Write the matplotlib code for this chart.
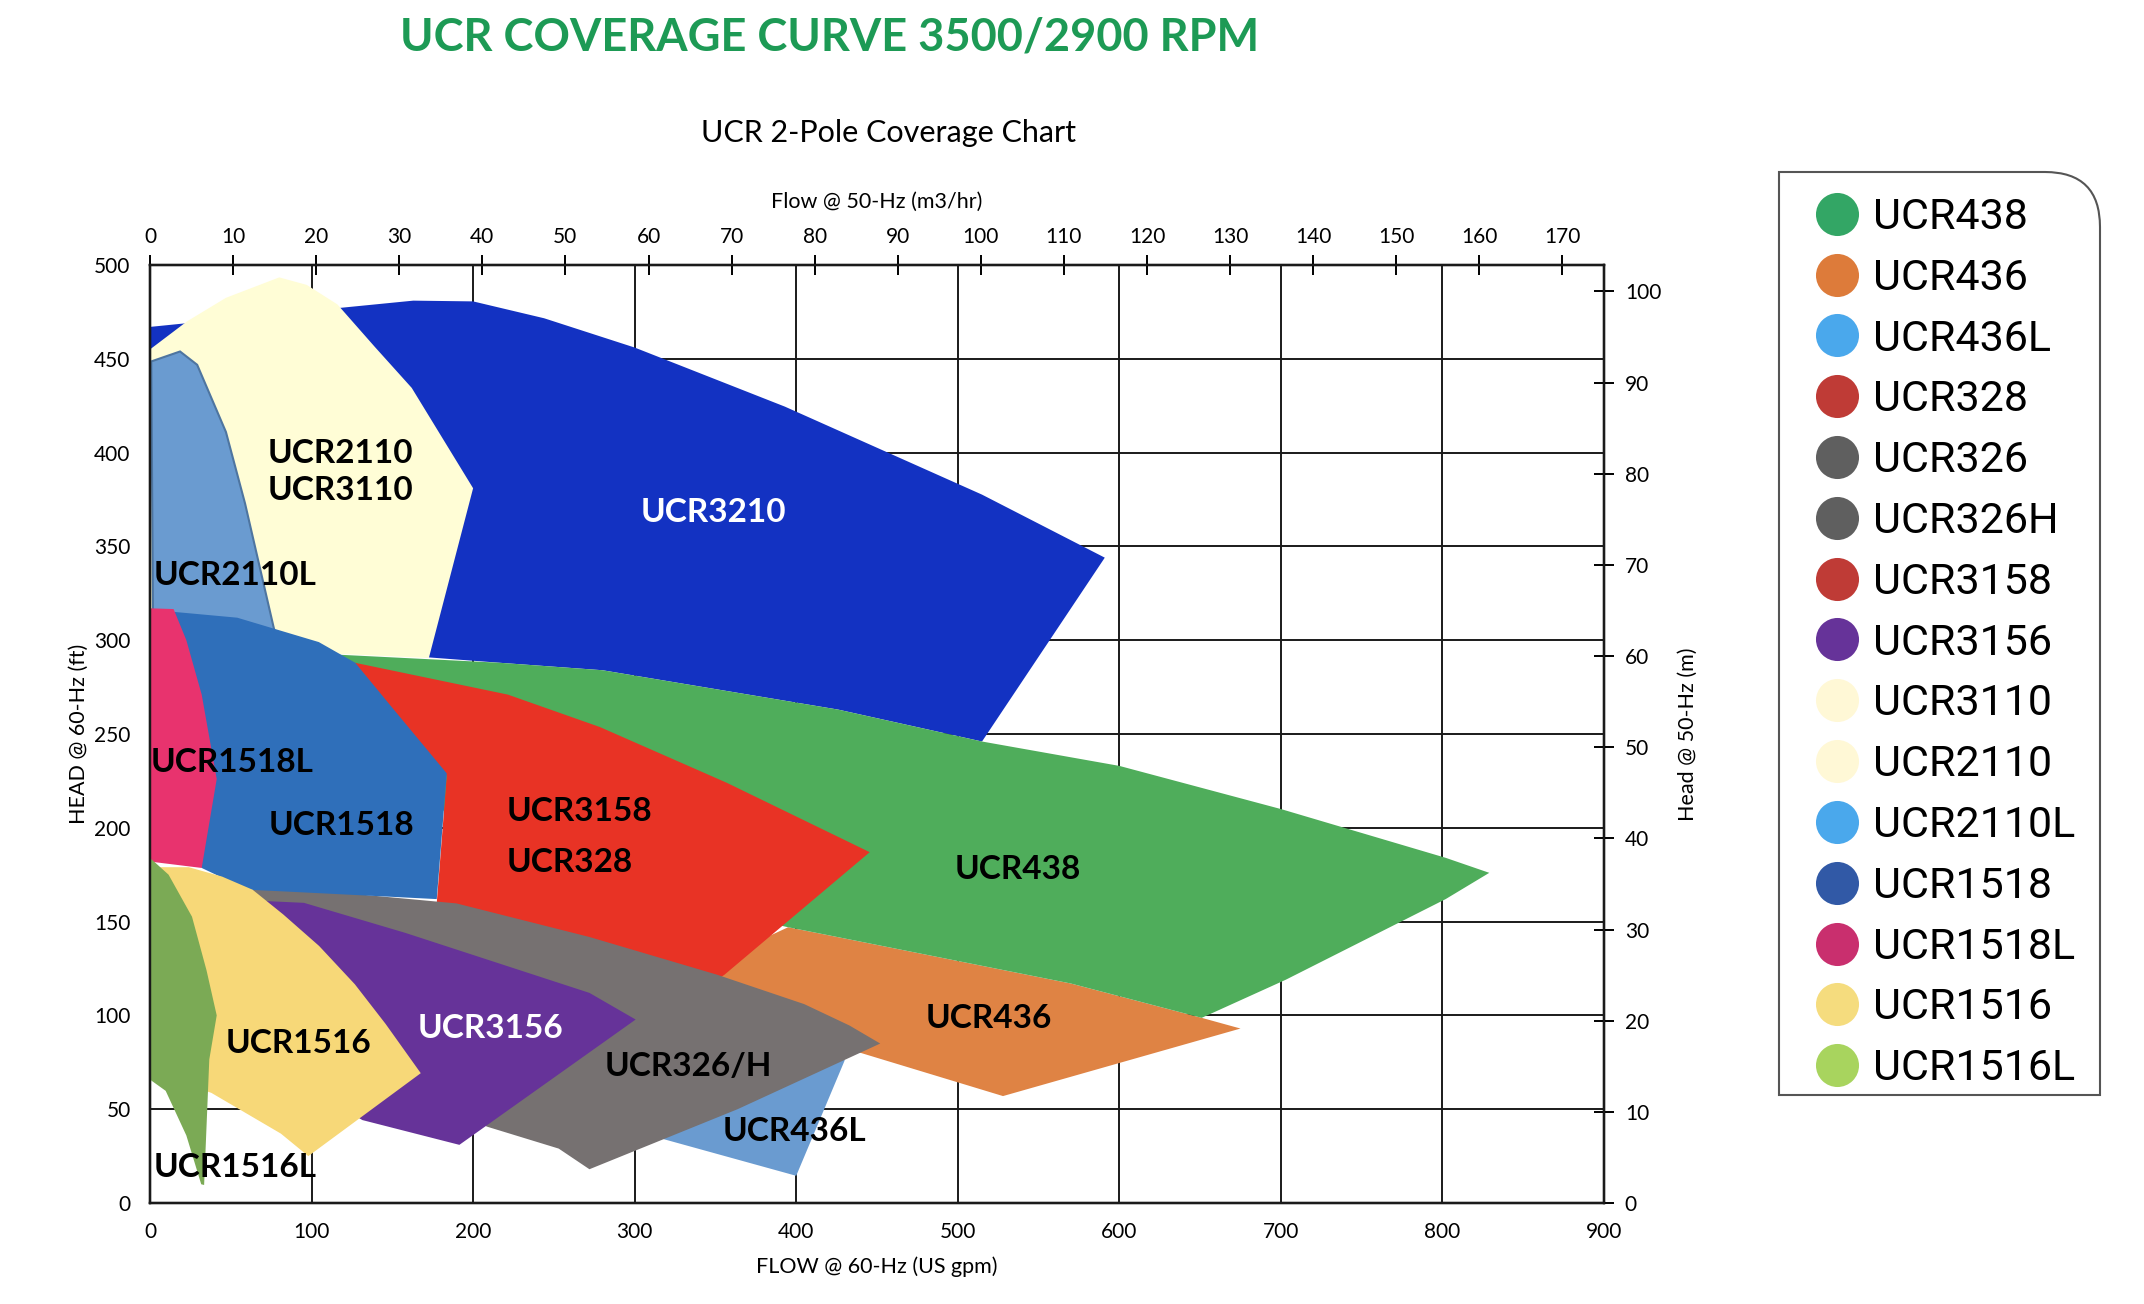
import matplotlib
matplotlib.use("Agg")
import matplotlib.pyplot as plt
from matplotlib.lines import Line2D
from matplotlib.path import Path
from matplotlib.patches import PathPatch
import numpy as np

plt.rcParams['font.family'] = ['Lato', 'DejaVu Sans']

# --- coverage envelopes (flow US gpm @60Hz, head ft @60Hz) ---
flow_3210 = [0, 23, 116, 163, 200, 244, 300, 393, 515, 591, 515, 426, 280, 216, 170, 0]
head_3210 = [467, 469, 477, 481, 480.6, 471.6, 456, 424.5, 377.6, 344, 246, 263, 284, 288, 291, 300]

flow_2110 = [0, 23, 47, 80, 97, 116, 139, 162, 200, 172.6, 60, 0]
head_2110 = [455, 470, 482.5, 493.4, 489.4, 479, 456.5, 434.5, 381, 290.5, 295, 300]

flow_2110L = [0.8, 18.6, 29.2, 47, 58.8, 76.5, 80, 2]
head_2110L = [448.6, 453.9, 446.8, 411, 373, 307, 295, 295]

flow_436 = [340, 395, 570, 651, 675, 528, 440, 340]
head_436 = [125, 147, 117, 98.7, 93, 57, 80, 100]

flow_436L = [316, 400, 430, 420, 330]
head_436L = [34.5, 14.5, 76, 90, 60]

flow_438 = [100, 216, 280, 426, 515, 600, 700, 802, 829, 802, 703, 651, 570, 395, 300, 200, 100]
head_438 = [293, 288, 284, 263, 246, 233, 210, 184, 176, 162, 119, 98.7, 117, 147, 165, 200, 250]

flow_3158 = [126.7, 221.5, 278.5, 357, 445.5, 355.6, 351, 272, 189.7, 177.5, 183.7]
head_3158 = [288, 271, 253.7, 224, 187, 121.7, 119, 139, 157, 160, 227.7]

flow_326 = [63.5, 85.7, 189.7, 272, 351, 405, 433, 452, 363.7, 272, 253, 209, 150, 80]
head_326 = [167, 168, 159.7, 141.8, 121.7, 106, 94.6, 85, 50, 18, 29, 40.6, 60, 100]

flow_3156 = [70, 95.3, 158, 272, 300.6, 191.5, 131.5, 100, 60]
head_3156 = [161, 160, 144, 112, 97.8, 31, 44.2, 60, 100]

flow_1518 = [5, 16, 54, 104.5, 127, 149, 183.7, 177.5, 85, 60.4, 32, 10]
head_1518 = [315, 315, 312, 299, 288, 265, 229, 162, 166, 167, 178.6, 200]

flow_1518L = [0, 14.6, 22.5, 32, 41.3, 32, 0]
head_1518L = [317, 316.6, 300, 271, 226, 178.6, 182]

flow_1516 = [6.8, 24, 44.6, 63.5, 82.5, 104.7, 126.8, 145.8, 167.6, 98, 81, 38, 0, 0]
head_1516 = [179, 179, 174, 167, 153.8, 137, 116.6, 95.5, 69.2, 25, 37, 58.7, 70, 179]

flow_1516L = [0.3, 11.5, 26, 35, 41.3, 36.7, 33.5, 31.7, 22.5, 9.7, 0.3]
head_1516L = [183.7, 175, 152.6, 124, 100, 76.5, 9.6, 10, 36, 59.8, 65.6]

# region labels: text, flow, head, colour
label_text = ['UCR2110', 'UCR3110', 'UCR2110L', 'UCR3210', 'UCR1518L', 'UCR1518',
              'UCR3158', 'UCR328', 'UCR438', 'UCR436', 'UCR1516', 'UCR3156',
              'UCR326/H', 'UCR436L', 'UCR1516L']
label_flow = [118, 118, 52.5, 349, 51, 118.5, 266, 260, 537, 519, 92, 211, 333, 399, 52.5]
label_head = [399.5, 380, 334.6, 368, 234.7, 201, 208.5, 181.5, 178, 98.4, 85, 93, 73, 38, 19]
label_color = ['black', 'black', 'black', 'white', 'black', 'black', 'black', 'black',
               'black', 'black', 'black', 'white', 'black', 'black', 'black']

legend_names = ['UCR438', 'UCR436', 'UCR436L', 'UCR328', 'UCR326', 'UCR326H',
                'UCR3158', 'UCR3156', 'UCR3110', 'UCR2110', 'UCR2110L', 'UCR1518',
                'UCR1518L', 'UCR1516', 'UCR1516L']
legend_colors = ['#33A665', '#DD7B3A', '#4AA8EC', '#BF3B36', '#5F5F5F', '#5F5F5F',
                 '#BF3B36', '#663399', '#FFF8D6', '#FFF8D6', '#4AA8EC', '#3159A6',
                 '#C92F6E', '#F5DC7E', '#A8D45E']

gpm_ticks = np.arange(0, 901, 100)
ft_ticks = np.arange(0, 501, 50)
m3h_ticks = np.arange(0, 171, 10)
m_ticks = np.arange(0, 101, 10)

fig = plt.figure(figsize=(21.44, 13.04), dpi=100, facecolor='white')
ax = fig.add_axes([0.06996, 0.07745, 0.67817, 0.71933])

polys = [
    (flow_3210, head_3210, '#1332C2', 1),
    (flow_2110, head_2110, '#FFFDD6', 2),
    (flow_2110L, head_2110L, '#6A9BD0', 3),
    (flow_436L, head_436L, '#6A9BD0', 4),
    (flow_436, head_436, '#DF8344', 5),
    (flow_438, head_438, '#4FAD5B', 6),
    (flow_3158, head_3158, '#E83325', 7),
    (flow_326, head_326, '#767171', 8),
    (flow_3156, head_3156, '#663399', 9),
    (flow_1518, head_1518, '#2F6FBA', 10),
    (flow_1518L, head_1518L, '#E8336E', 11),
    (flow_1516, head_1516, '#F7D878', 12),
    (flow_1516L, head_1516L, '#7BAA55', 13),
]
for fx, hy, col, z in polys:
    ax.fill(fx, hy, color=col, lw=0, zorder=z)
# 2110L has a darker outline
ax.fill(flow_2110L, head_2110L, facecolor='none', edgecolor='#4E75A0', lw=1.5, zorder=3.5)

for t, x, y, c in zip(label_text, label_flow, label_head, label_color):
    ax.text(x, y, t, color=c, fontsize=24, fontweight='bold', ha='center', va='center',
            zorder=20)

ax.set_xlim(0, 900)
ax.set_ylim(0, 500)
ax.set_xticks(gpm_ticks)
ax.set_yticks(ft_ticks)
ax.grid(True, color='#1a1a1a', lw=1.4, zorder=0)
ax.set_axisbelow(True)
ax.tick_params(axis='both', length=0, labelsize=15, pad=14)
for s in ax.spines.values():
    s.set_color('#1a1a1a')
    s.set_linewidth(1.6)
ax.set_xlabel('FLOW @ 60-Hz (US gpm)', fontsize=15.5, labelpad=10)
ax.set_ylabel('HEAD @ 60-Hz (ft)', fontsize=15.5, labelpad=4)

ax_top = ax.twiny()
ax_top.set_xlim(0, 175)
ax_top.set_xticks(m3h_ticks)
ax_top.tick_params(axis='x', direction='inout', length=14, width=1.4, labelsize=15, pad=6)
ax_top.set_xlabel('Flow @ 50-Hz (m3/hr)', fontsize=15.5, labelpad=14)

ax_r = ax.twinx()
ax_r.set_ylim(0, 102.9)
ax_r.set_yticks(m_ticks)
ax_r.tick_params(axis='y', direction='inout', length=14, width=1.4, labelsize=15, pad=8)
ax_r.set_ylabel('Head @ 50-Hz (m)', fontsize=15.5, labelpad=12)
for a in (ax_top, ax_r):
    for s in a.spines.values():
        s.set_color('#1a1a1a')
        s.set_linewidth(1.6)

fig.text(0.387, 0.9716, 'UCR COVERAGE CURVE 3500/2900 RPM', color='#1D9A55',
         fontsize=32.5, fontweight='bold', ha='center', va='center')
fig.text(0.4146, 0.898, 'UCR 2-Pole Coverage Chart', fontsize=22,
         ha='center', va='center')

# legend
handles = [Line2D([], [], marker='o', ls='', markersize=31, color=c, markeredgewidth=0)
           for c in legend_colors]
leg = fig.legend(handles, legend_names, loc='upper left', bbox_to_anchor=(0.8345, 0.8655),
                 frameon=False, prop={'family': 'Roboto', 'size': 31},
                 handletextpad=0.24, labelspacing=0.46, borderpad=0, handlelength=1.2)

# legend frame with a rounded top-right corner (figure pixels)
W, H = 2144, 1304
x0, x1, y0, y1, r = 1779, 2100, 1095, 172, 55
verts = [(x0, y0), (x0, y1), (x1 - r, y1), (x1, y1), (x1, y1 + r), (x1, y0), (x0, y0)]
codes = [Path.MOVETO, Path.LINETO, Path.LINETO, Path.CURVE3, Path.CURVE3, Path.LINETO, Path.CLOSEPOLY]
verts = [(vx / W, 1 - vy / H) for vx, vy in verts]
frame = PathPatch(Path(verts, codes), transform=fig.transFigure, facecolor='none',
                  edgecolor='#555555', lw=1.5)
fig.add_artist(frame)

fig.savefig('out.png', dpi=100, facecolor='white')
